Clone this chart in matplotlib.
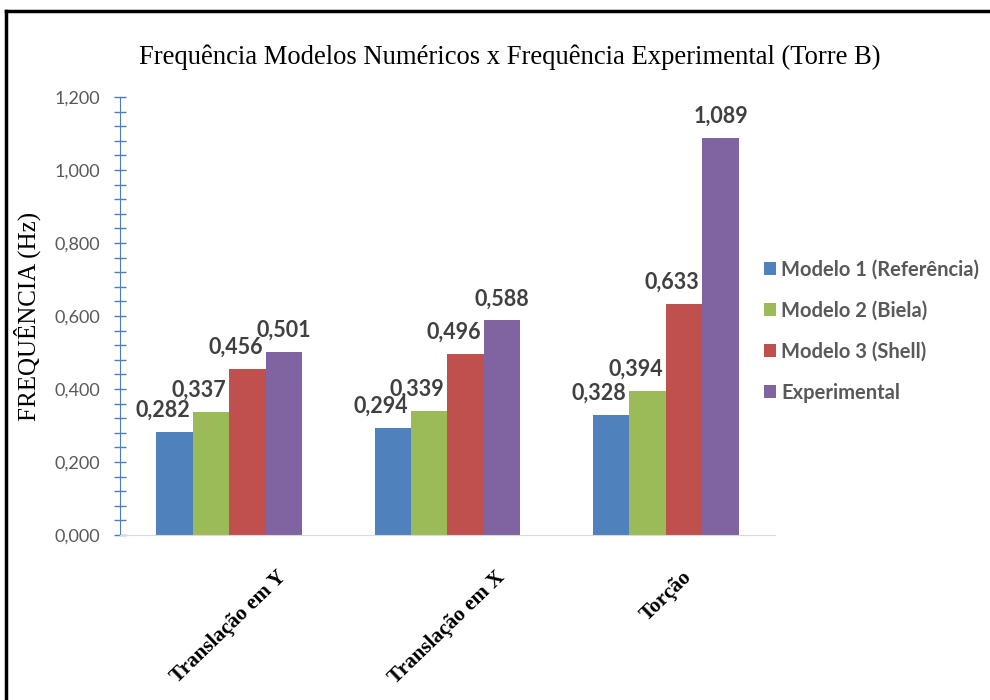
import numpy as np
import matplotlib.pyplot as plt
from matplotlib.ticker import MultipleLocator, FuncFormatter
from matplotlib.transforms import ScaledTranslation
from matplotlib.lines import Line2D

categorias = ['Translação em Y', 'Translação em X', 'Torção']
series = ['Modelo 1 (Referência)', 'Modelo 2 (Biela)', 'Modelo 3 (Shell)', 'Experimental']
modelo1 = [0.282, 0.294, 0.328]
modelo2 = [0.337, 0.339, 0.394]
modelo3 = [0.456, 0.496, 0.633]
experimental = [0.501, 0.588, 1.089]

cores = ['#4F81BD', '#9BBB59', '#C0504D', '#8064A2']
sans = 'Lato'
serif = 'Liberation Serif'

fig = plt.figure(figsize=(9.9, 7.0), dpi=100)
ax = fig.add_axes([120 / 990, 1 - 535 / 700, 655 / 990, 438 / 700])

x = np.arange(len(categorias))
largura = 0.167
# deslocamento horizontal (px) dos rótulos de valor de cada série
desloc_rotulo = [-12, -12, -12, 0]

for i, (nome, valores) in enumerate(zip(series, [modelo1, modelo2, modelo3, experimental])):
    pos = x + (i - 1.5) * largura
    barras = ax.bar(pos, valores, largura, color=cores[i], label=nome, zorder=2)
    for b, v in zip(barras, valores):
        ax.annotate(f'{v:.3f}'.replace('.', ','),
                    (b.get_x() + b.get_width() / 2, v),
                    xytext=(desloc_rotulo[i] * 0.72, 8), textcoords='offset points',
                    ha='center', va='bottom', fontsize=15.5, fontweight='bold',
                    color='#404040', family=sans)

ax.set_xlim(-0.5, len(categorias) - 0.5)
ax.set_ylim(0, 1.2)

ax.yaxis.set_major_locator(MultipleLocator(0.2))
ax.yaxis.set_minor_locator(MultipleLocator(0.04))
ax.yaxis.set_major_formatter(FuncFormatter(lambda v, p: f'{v:.3f}'.replace('.', ',')))
ax.tick_params(axis='y', which='both', direction='inout', length=8, width=1,
               color='#4A7EBB', labelsize=13, labelcolor='#595959', pad=10)
for t in ax.get_yticklabels():
    t.set_family(sans)

# rótulos das categorias: caixa girada centrada na categoria
ax.set_xticks([])
rot = ax.get_xaxis_transform() + ScaledTranslation(0, -32 / 100, fig.dpi_scale_trans)
for xi, cat in zip(x, categorias):
    ax.text(xi, 0, cat, transform=rot, rotation=44,
            ha='center', va='top', fontsize=15.3, fontweight='bold', family=serif)

for lado in ['top', 'right']:
    ax.spines[lado].set_visible(False)
ax.spines['left'].set_color('#4A7EBB')
ax.spines['bottom'].set_color('#D9D9D9')

ax.set_ylabel('FREQUÊNCIA (Hz)', fontsize=18, family=serif, labelpad=10)

fig.text(510 / 990, 1 - 57 / 700,
         'Frequência Modelos Numéricos x Frequência Experimental (Torre B)',
         ha='center', va='center', fontsize=19.2, family=serif)

leg = fig.legend(loc='center left', bbox_to_anchor=(746 / 990, 1 - 331 / 700),
                 frameon=False, handlelength=0.6, handleheight=0.6,
                 handletextpad=0.25, labelspacing=1.05,
                 prop={'family': sans, 'weight': 'bold', 'size': 14.5})
for t in leg.get_texts():
    t.set_color('#595959')

# moldura
fig.add_artist(Line2D([6 / 990, 6 / 990], [0, 1 - 11 / 700], color='black', lw=2.5,
                      transform=fig.transFigure))
fig.add_artist(Line2D([6 / 990, 1], [1 - 11 / 700, 1 - 11 / 700], color='black', lw=2.5,
                      transform=fig.transFigure))

fig.savefig('out.png', dpi=100)
